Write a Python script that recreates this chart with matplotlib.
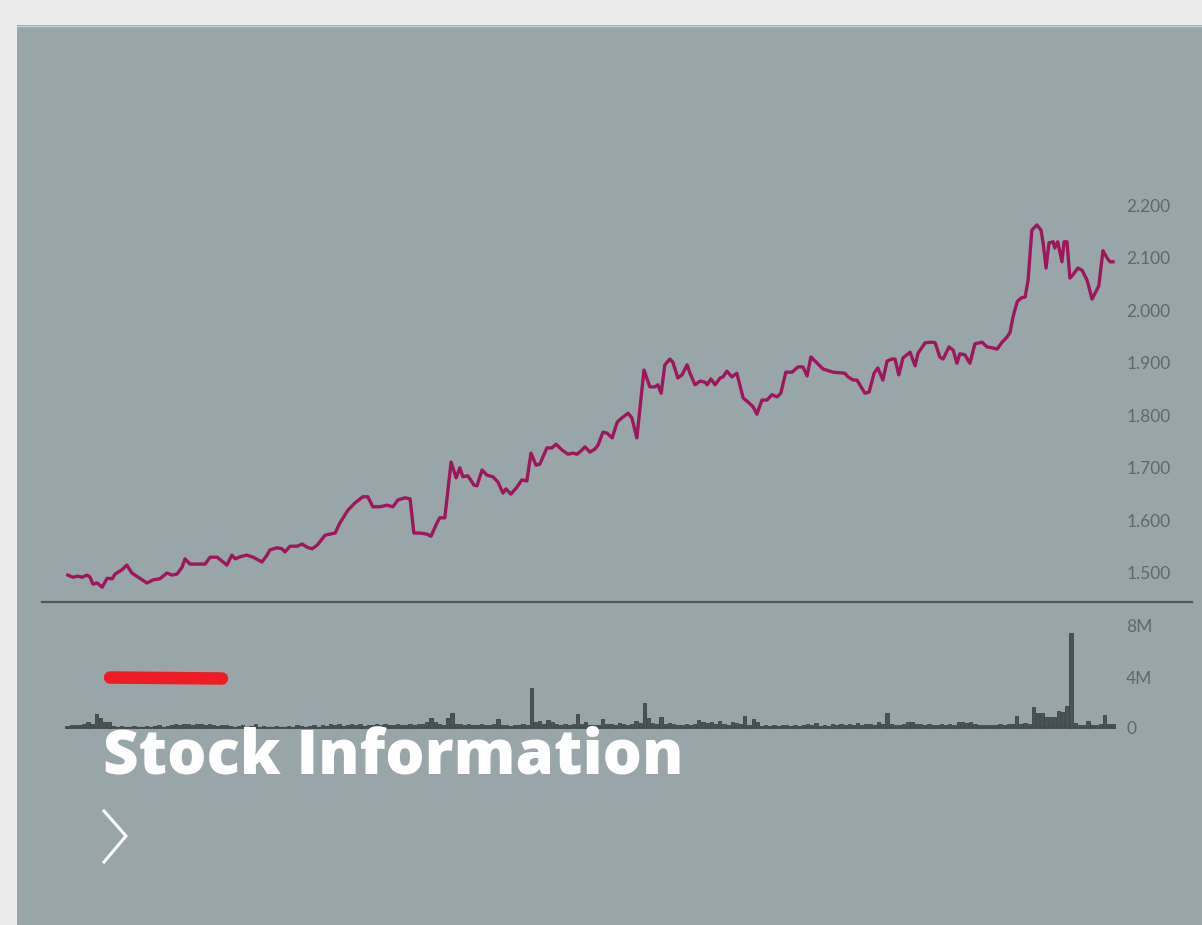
import matplotlib
matplotlib.use("Agg")
import matplotlib.pyplot as plt
from matplotlib.patches import Rectangle

# price line (trading session, price in thousands)
session = [0.2, 1.4, 2.6, 3.6, 4.8, 5.5, 6.2, 7.2, 8.4, 9.6, 10.8, 11.5, 13.1, 14.3, 15.5, 17.4,
           19.1, 20.6, 22.2, 23.9, 25.1, 26.3, 27.5, 28.2, 29.4, 33.0, 34.2, 35.9, 37.0, 38.2,
           39.4, 40.2, 41.8, 43.0, 44.5, 46.6, 47.8, 48.5, 50.2, 51.4, 52.1, 53.3, 55.0, 56.2,
           57.4, 58.6, 59.8, 61.7, 64.1, 65.2, 67.2, 68.8, 70.7, 71.9, 73.1, 74.8, 76.5, 77.9,
           79.1, 80.8, 82.0, 82.9, 84.4, 86.0, 87.0, 88.4, 89.1, 90.3, 91.8, 93.0, 93.9, 94.6,
           95.8, 97.3, 98.0, 99.2, 100.4, 101.8, 103.0, 104.2, 104.9, 106.1, 107.6, 108.7, 109.9,
           110.9, 112.1, 113.0, 114.7, 115.9, 116.9, 118.3, 119.7, 120.9, 121.9, 123.1, 123.8,
           125.0, 126.2, 126.9, 128.1, 129.1, 130.3, 131.5, 132.6, 134.1, 135.0, 136.2, 137.9,
           139.3, 140.5, 141.2, 142.0, 142.9, 144.1, 144.8, 146.0, 147.0, 148.2, 148.9, 150.1,
           151.3, 152.5, 153.0, 153.9, 154.9, 156.1, 156.8, 157.7, 158.9, 160.1, 161.6, 162.8,
           164.0, 164.9, 166.1, 167.3, 168.5, 169.7, 170.6, 171.8, 173.3, 174.7, 175.9, 176.9,
           177.8, 179.3, 180.7, 183.1, 185.9, 186.7, 187.9, 188.8, 190.7, 191.7, 192.9, 193.8,
           195.0, 196.0, 197.2, 197.9, 198.8, 199.8, 201.5, 202.7, 203.4, 205.1, 206.7, 207.5,
           208.6, 209.4, 210.8, 211.8, 212.7, 213.4, 214.6, 215.8, 217.0, 218.7, 219.9, 221.3,
           222.3, 223.5, 224.7, 225.4, 226.1, 227.1, 228.0, 229.0, 229.7, 230.6, 231.8, 232.8,
           233.3, 234.0, 234.7, 235.7, 236.1, 236.8, 237.8, 238.3, 239.0, 239.7, 240.4, 241.6,
           242.6, 243.8, 245.0, 245.7, 246.6, 247.6, 248.6, 249.3, 250.0]
price = [1.496, 1.492, 1.494, 1.492, 1.496, 1.492, 1.479, 1.481, 1.473, 1.490, 1.489, 1.498, 1.506,
         1.515, 1.500, 1.490, 1.481, 1.487, 1.489, 1.500, 1.496, 1.498, 1.511, 1.527, 1.517, 1.517,
         1.530, 1.530, 1.523, 1.515, 1.534, 1.527, 1.532, 1.534, 1.530, 1.521, 1.534, 1.544, 1.548,
         1.546, 1.540, 1.551, 1.551, 1.555, 1.549, 1.546, 1.553, 1.572, 1.576, 1.595, 1.620, 1.633,
         1.645, 1.645, 1.626, 1.626, 1.629, 1.626, 1.639, 1.643, 1.641, 1.576, 1.576, 1.574, 1.570,
         1.595, 1.605, 1.605, 1.711, 1.681, 1.700, 1.683, 1.685, 1.667, 1.666, 1.696, 1.686, 1.683,
         1.673, 1.652, 1.660, 1.650, 1.664, 1.677, 1.675, 1.728, 1.705, 1.707, 1.738, 1.738, 1.745,
         1.734, 1.726, 1.728, 1.726, 1.734, 1.740, 1.730, 1.736, 1.743, 1.768, 1.766, 1.757, 1.787,
         1.795, 1.804, 1.795, 1.757, 1.886, 1.854, 1.854, 1.858, 1.842, 1.896, 1.907, 1.901, 1.871,
         1.877, 1.896, 1.880, 1.858, 1.865, 1.863, 1.858, 1.869, 1.858, 1.871, 1.873, 1.884, 1.873,
         1.880, 1.833, 1.825, 1.816, 1.802, 1.829, 1.829, 1.839, 1.835, 1.842, 1.882, 1.882, 1.892,
         1.892, 1.875, 1.911, 1.899, 1.888, 1.882, 1.880, 1.873, 1.867, 1.867, 1.842, 1.844, 1.880,
         1.890, 1.867, 1.903, 1.907, 1.907, 1.877, 1.909, 1.920, 1.894, 1.918, 1.938, 1.939, 1.938,
         1.911, 1.907, 1.930, 1.924, 1.899, 1.917, 1.915, 1.899, 1.936, 1.939, 1.930, 1.928, 1.926,
         1.939, 1.949, 1.958, 1.987, 2.016, 2.023, 2.025, 2.057, 2.152, 2.162, 2.152, 2.128, 2.080,
         2.128, 2.130, 2.118, 2.130, 2.092, 2.130, 2.130, 2.061, 2.067, 2.080, 2.076, 2.057, 2.021,
         2.032, 2.046, 2.113, 2.099, 2.092, 2.092]

# daily volume in millions, sessions 0..250
volume = [0.15, 0.2, 0.25, 0.2, 0.3, 0.45, 0.35, 1.1, 0.8, 0.5,
          0.45, 0.15, 0.1, 0.15, 0.1, 0.1, 0.15, 0.1, 0.1, 0.15,
          0.1, 0.15, 0.2, 0.1, 0.15, 0.25, 0.3, 0.2, 0.35, 0.3,
          0.25, 0.3, 0.35, 0.25, 0.3, 0.2, 0.15, 0.25, 0.2, 0.15,
          0.1, 0.15, 0.2, 0.1, 0.15, 0.35, 0.1, 0.15, 0.1, 0.1,
          0.15, 0.1, 0.1, 0.15, 0.1, 0.2, 0.15, 0.1, 0.15, 0.2,
          0.1, 0.25, 0.15, 0.3, 0.2, 0.35, 0.15, 0.2, 0.3, 0.25,
          0.35, 0.15, 0.2, 0.25, 0.3, 0.2, 0.35, 0.25, 0.2, 0.3,
          0.2, 0.25, 0.3, 0.25, 0.35, 0.3, 0.5, 0.8, 0.45, 0.3,
          0.25, 0.8, 1.15, 0.35, 0.3, 0.25, 0.3, 0.2, 0.25, 0.3,
          0.25, 0.2, 0.35, 0.7, 0.25, 0.2, 0.15, 0.25, 0.2, 0.3,
          0.25, 3.1, 0.5, 0.55, 0.3, 0.6, 0.5, 0.3, 0.25, 0.3,
          0.25, 0.3, 1.1, 0.35, 0.45, 0.2, 0.25, 0.2, 0.7, 0.3,
          0.35, 0.25, 0.4, 0.3, 0.2, 0.35, 0.55, 0.4, 1.95, 0.75,
          0.4, 0.35, 0.85, 0.3, 0.4, 0.35, 0.2, 0.25, 0.3, 0.2,
          0.3, 0.65, 0.45, 0.4, 0.5, 0.35, 0.55, 0.3, 0.25, 0.45,
          0.4, 0.3, 0.95, 0.25, 0.7, 0.5, 0.15, 0.2, 0.15, 0.2,
          0.15, 0.2, 0.2, 0.15, 0.25, 0.15, 0.2, 0.3, 0.2, 0.4,
          0.15, 0.2, 0.15, 0.3, 0.25, 0.35, 0.2, 0.3, 0.25, 0.4,
          0.2, 0.3, 0.35, 0.25, 0.45, 0.3, 1.2, 0.3, 0.25, 0.2,
          0.3, 0.45, 0.5, 0.35, 0.3, 0.25, 0.3, 0.2, 0.25, 0.3,
          0.2, 0.3, 0.25, 0.45, 0.5, 0.4, 0.45, 0.3, 0.2, 0.25,
          0.2, 0.25, 0.2, 0.3, 0.25, 0.3, 0.35, 0.95, 0.35, 0.4,
          0.35, 1.65, 1.2, 1.15, 0.85, 0.9, 0.85, 1.3, 1.25, 1.75,
          7.45, 0.4, 0.2, 0.25, 0.55, 0.2, 0.25, 0.3, 1.0, 0.35,
          0.3]

price_ticks = [1.5, 1.6, 1.7, 1.8, 1.9, 2.0, 2.1, 2.2]
volume_ticks = [0, 4, 8]
volume_labels = ["0", "4M", "8M"]

W, H = 1202, 925
CARD = "#98a6aa"
LINE = "#9e175d"
BAR = "#3b4345"
LABEL = "#5e696b"


def rect(x0, y0, x1, y1):
    return [x0 / W, 1 - y1 / H, (x1 - x0) / W, (y1 - y0) / H]


fig = plt.figure(figsize=(W / 100, H / 100), dpi=100, facecolor="#ececec")

bg = fig.add_axes([0, 0, 1, 1], zorder=0)
bg.set_xlim(0, W)
bg.set_ylim(H, 0)
bg.axis("off")
bg.add_patch(Rectangle((17, 25), W - 17, H - 25, color=CARD, lw=0))
bg.plot([17, W], [25.5, 25.5], color="#b9d5da", lw=1)

# price panel
ax = fig.add_axes(rect(67, 180, 1113, 602), zorder=1)
ax.patch.set_alpha(0)
ax.plot(session, price, color=LINE, lw=2.4, solid_joinstyle="round", clip_on=False)
ax.set_xlim(0, 250)
ax.set_ylim(1.5 - 29 / 525.7, 2.2 + 25 / 525.7)
ax.set_xticks([])
ax.set_yticks(price_ticks)
ax.set_yticklabels([f"{t:.3f}" for t in price_ticks])
ax.yaxis.tick_right()
ax.tick_params(axis="y", length=0, pad=9.5, labelsize=12.5, labelcolor=LABEL)
for lab in ax.get_yticklabels():
    lab.set_fontfamily("Lato")
for s in ax.spines.values():
    s.set_visible(False)

# volume panel
axv = fig.add_axes(rect(67, 626, 1113, 728), zorder=1)
axv.patch.set_alpha(0)
axv.bar(range(len(volume)), volume, width=0.8, color="#4a5355", edgecolor=BAR, lw=0.6, clip_on=False)
axv.axhline(0, color="#444c4e", lw=1.6)
axv.set_xlim(0, 250)
axv.set_ylim(0, 8)
axv.set_xticks([])
axv.set_yticks(volume_ticks)
axv.set_yticklabels(volume_labels)
axv.yaxis.tick_right()
axv.tick_params(axis="y", length=0, pad=9.5, labelsize=12.5, labelcolor=LABEL)
for lab in axv.get_yticklabels():
    lab.set_fontfamily("Lato")
for s in axv.spines.values():
    s.set_visible(False)

# overlay: separator, red stroke, title, chevron
top = fig.add_axes([0, 0, 1, 1], zorder=2)
top.set_xlim(0, W)
top.set_ylim(H, 0)
top.axis("off")
top.patch.set_alpha(0)
top.plot([42, 1192], [602, 602], color="#4f5a5c", lw=1.6)
top.plot([110, 222], [677.5, 678.5], color="#ee1c25", lw=9, solid_capstyle="round")
top.text(103, 773, "Stock Information", color="white", fontsize=44.5, fontweight="heavy",
         family="Open Sans", ha="left", va="baseline")
top.plot([104, 126, 104], [811, 836, 862], color="white", lw=2.2, solid_joinstyle="miter")

fig.savefig("out.png", dpi=100, facecolor=fig.get_facecolor())
